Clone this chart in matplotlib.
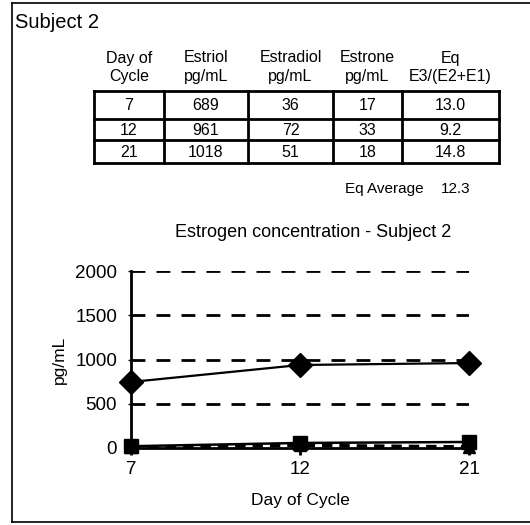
import matplotlib
matplotlib.use("Agg")
import matplotlib.pyplot as plt
from matplotlib.lines import Line2D

plt.rcParams["font.family"] = ["Liberation Sans", "DejaVu Sans"]

# table values
days = ["7", "12", "21"]
estriol = ["689", "961", "1018"]
estradiol = ["36", "72", "51"]
estrone = ["17", "33", "18"]
eq_ratio = ["13.0", "9.2", "14.8"]
headers = [("Day of", "Cycle"), ("Estriol", "pg/mL"), ("Estradiol", "pg/mL"),
           ("Estrone", "pg/mL"), ("Eq", "E3/(E2+E1)")]
eq_average = "12.3"

# chart values (as drawn)
chart_days = ["7", "12", "21"]
estriol_plot = [746, 938, 960]
estradiol_plot = [20, 57, 68]
estrone_plot = [8, 30, 12]
yticks = [0, 500, 1000, 1500, 2000]

W, H = 530, 525
fig = plt.figure(figsize=(W / 100, H / 100), dpi=100)


def fx(px):
    return px / W


def fy(py):
    return 1 - py / H


# outer frame (left, top, bottom only)
fig.add_artist(Line2D([fx(12), fx(12)], [fy(3), fy(522)], color="black", lw=1.2))
fig.add_artist(Line2D([fx(12), 1.01], [fy(3), fy(3)], color="black", lw=1.2))
fig.add_artist(Line2D([fx(12), 1.01], [fy(522), fy(522)], color="black", lw=1.2))

fig.text(fx(15), fy(23), "Subject 2", fontsize=14.5, ha="left", va="center")

# table
col_x = [94, 164, 248, 333, 402, 499]
row_y = [91, 119, 140, 163]
for x in col_x:
    fig.add_artist(Line2D([fx(x), fx(x)], [fy(row_y[0]), fy(row_y[-1])], color="black", lw=2))
for y in row_y:
    fig.add_artist(Line2D([fx(col_x[0]), fx(col_x[-1])], [fy(y), fy(y)], color="black", lw=2))

centers = [(col_x[i] + col_x[i + 1]) / 2 for i in range(5)]
for c, (h1, h2) in zip(centers, headers):
    fig.text(fx(c), fy(58), h1, fontsize=11.5, ha="center", va="center")
    fig.text(fx(c), fy(76), h2, fontsize=11.5, ha="center", va="center")

rows = list(zip(days, estriol, estradiol, estrone, eq_ratio))
for r, row in enumerate(rows):
    yc = (row_y[r] + row_y[r + 1]) / 2
    for c, val in zip(centers, row):
        fig.text(fx(c), fy(yc + 1), val, fontsize=11.5, ha="center", va="center")

fig.text(fx(345), fy(189), "Eq Average", fontsize=11, ha="left", va="center")
fig.text(fx(441), fy(189), eq_average, fontsize=11, ha="left", va="center")

# chart
ax = fig.add_axes([fx(131), fy(448), fx(469) - fx(131), fy(271) - fy(448)])
xs = range(len(chart_days))
ax.plot(xs, estriol_plot, color="black", lw=1.6, marker="D", markersize=12, clip_on=False, zorder=4)
ax.plot(xs, estradiol_plot, color="black", lw=1.8, marker="s", markersize=9.5, clip_on=False, zorder=4)
ax.plot(xs, estrone_plot, color="black", lw=2.5, ls=(0, (3, 2)), marker="^", markersize=8,
        clip_on=False, zorder=4)

for v in yticks[1:]:
    ax.axhline(v, color="black", lw=2, ls=(0, (5, 4)), zorder=1)

ax.set_xlim(0, 2)
ax.set_ylim(0, 2000)
ax.set_yticks(yticks)
ax.set_yticklabels([str(v) for v in yticks])
ax.set_xticks(list(xs))
ax.set_xticklabels(chart_days)
ax.spines["top"].set_visible(False)
ax.spines["right"].set_visible(False)
ax.spines["left"].set_linewidth(2)
ax.spines["bottom"].set_linewidth(2)
ax.tick_params(axis="y", length=2, width=1, pad=8, labelsize=13.5)
ax.tick_params(axis="x", length=5, width=2, pad=4, labelsize=13.5)
ax.set_xlabel("Day of Cycle", fontsize=12.5, labelpad=11)
ax.set_ylabel("pg/mL", fontsize=12.5, labelpad=6)
ax.set_title("Estrogen concentration - Subject 2", fontsize=13, pad=24.5, x=0.54)

fig.savefig("out.png", dpi=100)
